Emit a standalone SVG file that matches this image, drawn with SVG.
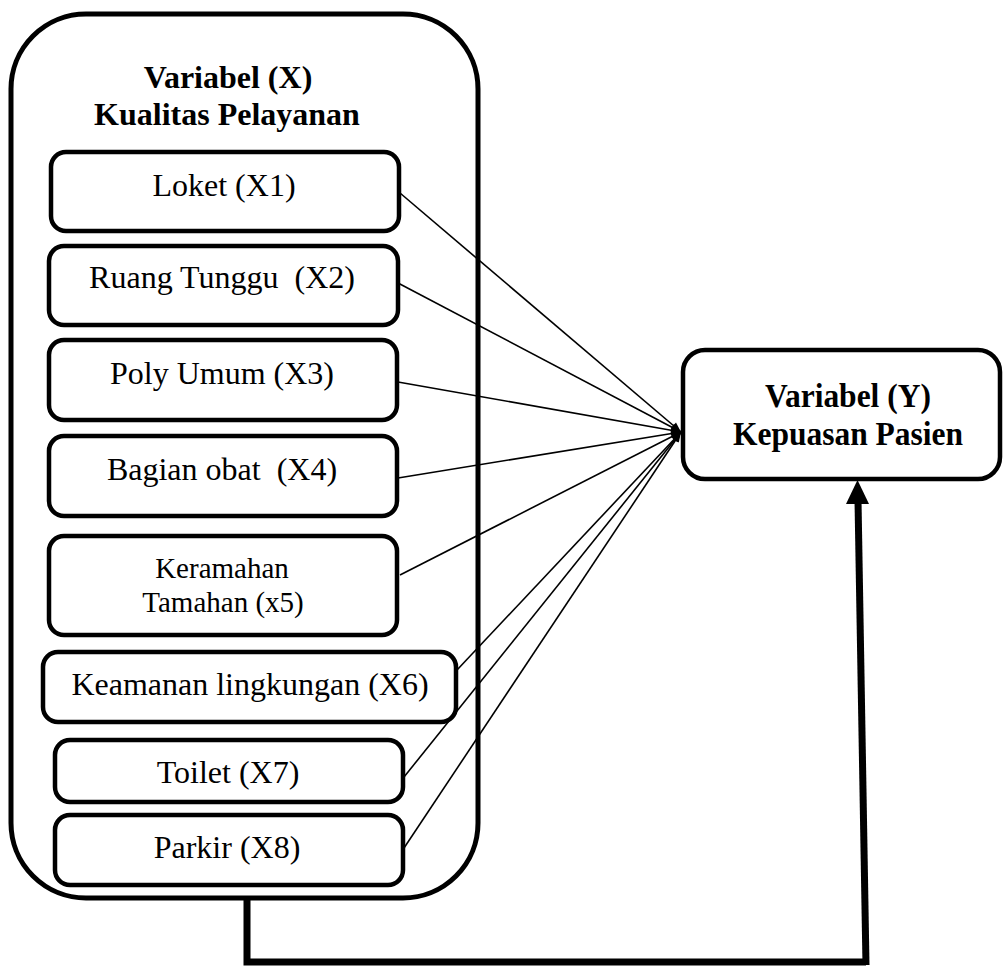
<svg xmlns="http://www.w3.org/2000/svg" width="1004" height="968" viewBox="0 0 1004 968">
<style>
.box{fill:#fff;stroke:#000;stroke-width:4.5}
.t{font-family:"Liberation Serif","Times New Roman",serif;font-size:32px;fill:#000;text-anchor:middle}
.b{font-weight:bold}
.ln{stroke:#000;stroke-width:1.6;fill:none;marker-end:url(#ah)}
.thick{stroke:#000;stroke-width:7;fill:none}
</style>
<defs>
<marker id="ah" viewBox="0 0 10 10" refX="10" refY="5" markerWidth="12" markerHeight="10" markerUnits="userSpaceOnUse" orient="auto">
<path d="M0,1 L10,5 L0,9 z" fill="#000"/>
</marker>
</defs>
<g id="varX">
<rect x="11" y="14" width="467" height="884" rx="75" ry="75" fill="#fff" stroke="#000" stroke-width="5"/>
<text class="t b" x="228" y="88">Variabel (X)</text>
<text class="t b" x="227" y="125">Kualitas Pelayanan</text>
</g>
<g id="x1"><rect class="box" x="51" y="152" width="348" height="79" rx="15"/><text class="t" x="224" y="196">Loket (X1)</text></g>
<g id="x2"><rect class="box" x="49" y="246" width="349" height="79" rx="15"/><text class="t" x="222" y="288" xml:space="preserve">Ruang Tunggu  (X2)</text></g>
<g id="x3"><rect class="box" x="49" y="340" width="348" height="80" rx="15"/><text class="t" x="222" y="384">Poly Umum (X3)</text></g>
<g id="x4"><rect class="box" x="49" y="436" width="348" height="80" rx="15"/><text class="t" x="222" y="480" xml:space="preserve">Bagian obat  (X4)</text></g>
<g id="x5"><rect class="box" x="49" y="536" width="348" height="99" rx="15"/><text class="t" x="222" y="578" style="font-size:29px">Keramahan</text><text class="t" x="223" y="612" style="font-size:29px">Tamahan (x5)</text></g>
<g id="x6"><rect class="box" x="43" y="652" width="413" height="70" rx="15"/><text class="t" x="250" y="695">Keamanan lingkungan (X6)</text></g>
<g id="x7"><rect class="box" x="55" y="740" width="348" height="62" rx="15"/><text class="t" x="228" y="783">Toilet (X7)</text></g>
<g id="x8"><rect class="box" x="55" y="815" width="348" height="70" rx="15"/><text class="t" x="227" y="858">Parkir (X8)</text></g>
<g id="varY">
<rect x="683" y="350" width="317" height="129" rx="22" fill="#fff" stroke="#000" stroke-width="4.5"/>
<text class="t b" transform="translate(848,407) scale(1,1.05)" x="0" y="0" style="font-size:31.5px">Variabel (Y)</text>
<text class="t b" transform="translate(848,445) scale(1,1.05)" x="0" y="0" style="font-size:31.5px">Kepuasan Pasien</text>
</g>
<g id="connectors">
<line class="ln" x1="400" y1="193" x2="681" y2="432"/>
<line class="ln" x1="398" y1="283" x2="681" y2="432"/>
<line class="ln" x1="398" y1="382" x2="681" y2="432"/>
<line class="ln" x1="398" y1="478" x2="681" y2="432"/>
<line class="ln" x1="400" y1="575" x2="681" y2="432"/>
<line class="ln" x1="457" y1="670" x2="681" y2="432"/>
<line class="ln" x1="404" y1="777" x2="681" y2="432"/>
<line class="ln" x1="404" y1="848" x2="681" y2="432"/>
<polyline class="thick" points="247,896 247,962 866,962" stroke-linejoin="miter"/>
<line x1="866" y1="965" x2="858" y2="500" stroke="#000" stroke-width="7"/>
<path d="M846,504 L869,504 L857.5,480 z" fill="#000"/>
</g>
</svg>
